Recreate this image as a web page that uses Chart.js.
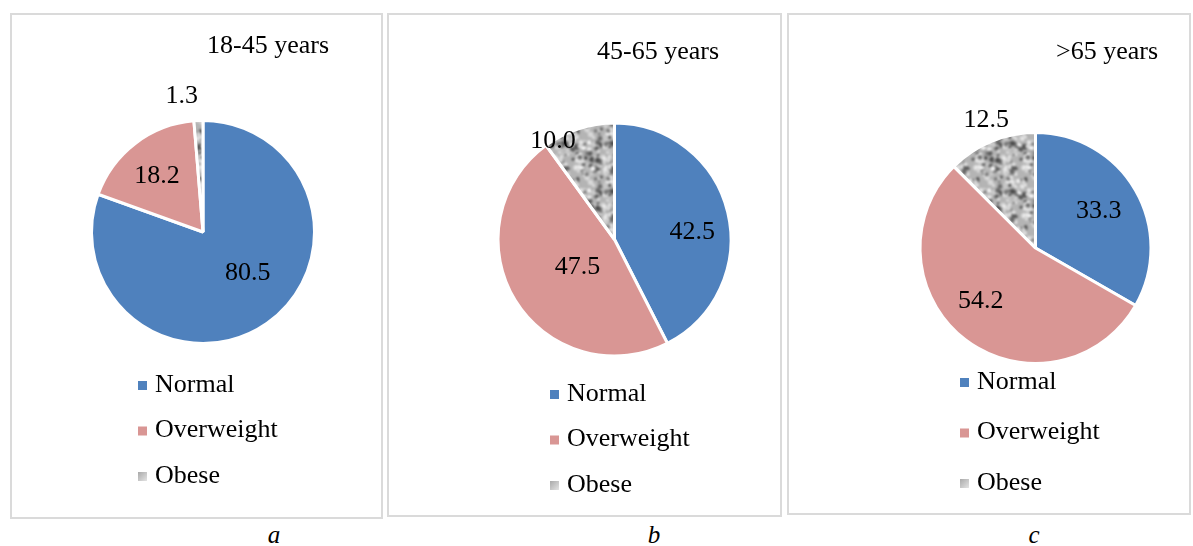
<!DOCTYPE html>
<html>
<head>
<meta charset="utf-8">
<script src="https://cdn.jsdelivr.net/npm/chart.js@4.4.1/dist/chart.umd.min.js"></script>
<style>
  html, body { margin: 0; padding: 0; background: #fff; }
  body { width: 1193px; height: 546px; position: relative; overflow: hidden;
         font-family: "Liberation Serif", "Times New Roman", serif; }
  .frame { position: absolute; box-sizing: border-box; border: 2px solid #dadada; }
  canvas.pie { position: absolute; }
  .cap { position: absolute; font-style: italic; font-size: 25px; color: #000;
         transform: translateX(-50%); line-height: 1; }
</style>
</head>
<body>
<div class="frame" style="left:10px;top:13px;width:373px;height:506px"></div>
<div class="frame" style="left:387px;top:13px;width:395px;height:504px"></div>
<div class="frame" style="left:787px;top:13px;width:404px;height:502px"></div>
<canvas class="pie" id="pieA" width="373" height="506" style="left:10px;top:13px"></canvas>
<canvas class="pie" id="pieB" width="395" height="504" style="left:387px;top:13px"></canvas>
<canvas class="pie" id="pieC" width="404" height="502" style="left:787px;top:13px"></canvas>
<div class="cap" style="left:274px;top:522px">a</div>
<div class="cap" style="left:654px;top:522px">b</div>
<div class="cap" style="left:1034px;top:522px">c</div>

<script>
// Body-weight categories and their shares (%) per age group
const categories = ['Normal', 'Overweight', 'Obese'];
const groupTitles = ['18-45 years', '45-65 years', '>65 years'];
const shares18to45 = [80.5, 18.2, 1.3];
const shares45to65 = [42.5, 47.5, 10.0];
const sharesOver65 = [33.3, 54.2, 12.5];

const FONT = '"Liberation Serif", "Times New Roman", serif';

// Speckled grey fill used for the "Obese" slice
function grainPattern(ctx) {
  const T = 48;
  const big = document.createElement('canvas');
  big.width = big.height = T * 3;
  const g = big.getContext('2d');
  g.fillStyle = '#b4b4b4';
  g.fillRect(0, 0, T * 3, T * 3);
  let s = 24681;
  const next = () => { s = (s * 16807) % 2147483647; return s / 2147483647; };
  const dots = [];
  for (let i = 0; i < 170; i++) {
    const dark = next() < 0.42;
    const v = dark ? Math.floor(70 + next() * 60) : Math.floor(195 + next() * 50);
    dots.push([next() * T, next() * T, 1.0 + next() * 1.8, v]);
  }
  for (let ox = 0; ox < 3; ox++) for (let oy = 0; oy < 3; oy++) {
    for (const [x, y, r, v] of dots) {
      g.fillStyle = `rgb(${v},${v},${v})`;
      g.beginPath(); g.arc(x + ox * T, y + oy * T, r, 0, Math.PI * 2); g.fill();
    }
  }
  const soft = document.createElement('canvas');
  soft.width = soft.height = T * 3;
  const sg = soft.getContext('2d');
  sg.filter = 'blur(1px)';
  sg.drawImage(big, 0, 0);
  const tile = document.createElement('canvas');
  tile.width = tile.height = T;
  tile.getContext('2d').drawImage(soft, T, T, T, T, 0, 0, T, T);
  return ctx.createPattern(tile, 'repeat');
}

// Layout of each framed panel (canvas coordinates)
const panels = [
  { id: 'pieA', values: shares18to45, title: groupTitles[0], w: 373, h: 506,
    cx: 193, cy: 219, r: 110, titleX: 258, titleY: 33,
    legX: 128, legY: 372, legDy: 45.5,
    labelPos: [{ f: 0.55, da: -12.6 }, { f: 0.66, da: -2 }, { f: 1.25, da: -6.5 }] },
  { id: 'pieB', values: shares45to65, title: groupTitles[1], w: 395, h: 504,
    cx: 227.5, cy: 226.5, r: 115, titleX: 271, titleY: 39,
    legX: 163, legY: 381, legDy: 45.5,
    labelPos: [{ f: 0.68, da: 8 }, { f: 0.40, da: -4.8 }, { f: 1.01, da: -14 }] },
  { id: 'pieC', values: sharesOver65, title: groupTitles[2], w: 404, h: 502,
    cx: 248.5, cy: 235, r: 114, titleX: 320, titleY: 39,
    legX: 173, legY: 369, legDy: 50.5,
    labelPos: [{ f: 0.64, da: 0 }, { f: 0.67, da: 8.4 }, { f: 1.2, da: 1.4 }] }
];

// Legend swatch for a category: solid colours, soft grey for the grain fill
function swatchFill(ctx, fill, x, y) {
  if (typeof fill === 'string') return fill;
  const grad = ctx.createLinearGradient(x, y, x + 9, y + 9);
  grad.addColorStop(0, '#a9a9a9');
  grad.addColorStop(1, '#e4e4e4');
  return grad;
}

// Title, value labels and the stacked legend drawn onto each chart
const panelDecor = {
  id: 'panelDecor',
  afterDatasetsDraw(chart, args, opts) {
    const ctx = chart.ctx;
    const p = opts.panel;
    const ds = chart.data.datasets[0];
    const arcs = chart.getDatasetMeta(0).data;
    ctx.save();
    ctx.fillStyle = '#000';
    ctx.font = `26px ${FONT}`;
    ctx.textAlign = 'center';
    ctx.textBaseline = 'middle';
    // title
    ctx.fillText(p.title, p.titleX, p.titleY);
    // value labels
    arcs.forEach((arc, i) => {
      const { x, y, startAngle, endAngle } = arc.getProps(['x', 'y', 'startAngle', 'endAngle'], true);
      const mid = (startAngle + endAngle) / 2 + p.labelPos[i].da * Math.PI / 180;
      const d = p.labelPos[i].f * p.r;
      ctx.fillText(ds.data[i].toFixed(1), x + Math.cos(mid) * d, y + Math.sin(mid) * d);
    });
    // legend
    ctx.textAlign = 'left';
    chart.data.labels.forEach((lab, i) => {
      const yy = p.legY + i * p.legDy;
      ctx.fillStyle = swatchFill(ctx, ds.backgroundColor[i], p.legX, yy - 4);
      ctx.fillRect(p.legX, yy - 4, 9, 9);
      ctx.fillStyle = '#000';
      ctx.fillText(lab, p.legX + 17, yy);
    });
    ctx.restore();
  }
};

panels.forEach(p => {
  const canvas = document.getElementById(p.id);
  const ctx = canvas.getContext('2d');
  new Chart(ctx, {
    type: 'pie',
    data: {
      labels: categories,
      datasets: [{
        data: p.values,
        backgroundColor: ['#4f81bd', '#d99694', grainPattern(ctx)],
        borderColor: '#ffffff',
        borderWidth: 3
      }]
    },
    options: {
      responsive: false,
      animation: false,
      devicePixelRatio: 1,
      radius: p.r + 1.5,
      layout: { padding: { left: p.cx - p.r, right: p.w - p.cx - p.r, top: p.cy - p.r, bottom: p.h - p.cy - p.r } },
      plugins: {
        legend: { display: false },
        title: { display: false },
        tooltip: { enabled: false },
        panelDecor: { panel: p }
      }
    },
    plugins: [panelDecor]
  });
});
</script>
</body>
</html>
